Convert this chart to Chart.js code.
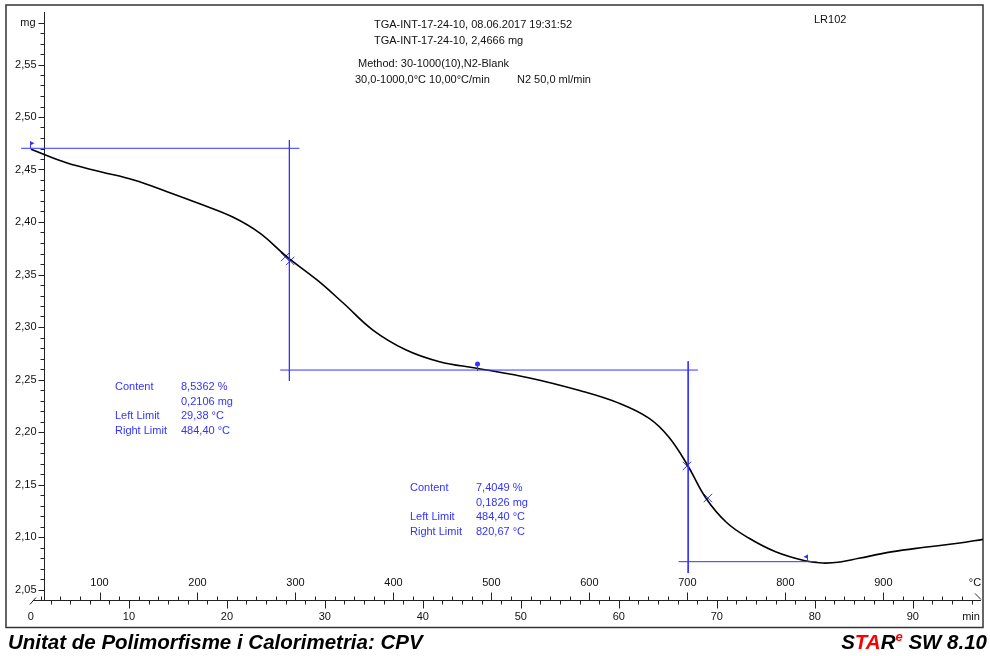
<!DOCTYPE html>
<html>
<head>
<meta charset="utf-8">
<script src="https://cdn.jsdelivr.net/npm/chart.js@4.4.1/dist/chart.umd.min.js"></script>
<style>
  html, body { margin: 0; padding: 0; background: #fff; }
  #tga { display: block; }
</style>
</head>
<body>
<canvas id="tga" width="990" height="656"></canvas>
<script>
// --- data ---
const timeMin = [0, 3.7, 7.1, 10.5, 13.9, 17.3, 20.7, 23.4, 26.1, 29.2, 31.9, 34.9,
  38.3, 41.7, 45.5, 50.9, 56.0, 60.0, 63.1, 65.1, 67.0, 68.9, 71.0, 73.3, 76.0, 79.0,
  80.8, 82.6, 84.5, 87.8, 91.2, 94.6, 97.2];
const massMg = [2.4692, 2.4561, 2.4479, 2.4400, 2.4289, 2.4171, 2.4043, 2.3892,
  2.3670, 2.3448, 2.3226, 2.2971, 2.2781, 2.2670, 2.2607, 2.2515, 2.2395, 2.2275, 2.2130,
  2.1952, 2.1686, 2.1369, 2.1138, 2.0988, 2.0860, 2.0774, 2.0752, 2.0762, 2.0797, 2.0858,
  2.0902, 2.0940, 2.0978];

// step evaluation lines [min, mg]
const stepBase1 = [[-1.0, 2.4702], [27.4, 2.4702]];
const stepLimit1 = [[26.38, 2.4781], [26.38, 2.2486]];
const stepBase2 = [[25.44, 2.2590], [68.07, 2.2590]];
const stepLimit2 = [[67.08, 2.2673], [67.08, 2.0657]];
const stepBase3 = [[66.1, 2.0765], [80.2, 2.0765]];
const crossMarks = [[25.95, 2.3667], [26.46, 2.3629], [66.95, 2.1676], [69.09, 2.1371]];
const flagStart = [0, 2.4702];
const pinMid = [45.5, 2.2590];
const flagEnd = [79.2, 2.0765];

// axis ticks
const yTickValues = [2.05, 2.10, 2.15, 2.20, 2.25, 2.30, 2.35, 2.40, 2.45, 2.50, 2.55];
const yTickLabels = ['2,05', '2,10', '2,15', '2,20', '2,25', '2,30', '2,35', '2,40', '2,45', '2,50', '2,55'];
const tempLabels = [100, 200, 300, 400, 500, 600, 700, 800, 900];
const minLabels = [0, 10, 20, 30, 40, 50, 60, 70, 80, 90];

const step1Text = [['Content', '8,5362 %'], ['', '0,2106 mg'], ['Left Limit', '29,38 °C'], ['Right Limit', '484,40 °C']];
const step2Text = [['Content', '7,4049 %'], ['', '0,1826 mg'], ['Left Limit', '484,40 °C'], ['Right Limit', '820,67 °C']];

const BLUE = '#3333ff';
const FONT = '11px "Liberation Sans", Arial, sans-serif';

function pts(arr) { return arr.map(p => ({ x: p[0], y: p[1] })); }
function lineSet(arr) {
  return { data: pts(arr), borderColor: BLUE, borderWidth: 1, pointRadius: 0, tension: 0 };
}

// --- axes, frame and texts ---
const tgaDecor = {
  id: 'tgaDecor',
  beforeDatasetsDraw(chart) {
    const c = chart.ctx, xs = chart.scales.x, ys = chart.scales.y;
    const axisY = ys.getPixelForValue(2.04);
    const axisX = Math.round(xs.getPixelForValue(1.3)) + 0.5;
    c.save();
    c.strokeStyle = '#222';
    c.fillStyle = '#111';
    c.lineWidth = 1;
    c.font = FONT;

    // y axis
    c.beginPath();
    c.moveTo(axisX, ys.getPixelForValue(2.60));
    c.lineTo(axisX, axisY);
    for (let i = 5; i <= 59; i++) {
      const yp = Math.round(ys.getPixelForValue(2 + i / 100)) + 0.5;
      const len = (i % 5 === 0 || i === 59) ? 6 : 4;
      c.moveTo(axisX - len, yp);
      c.lineTo(axisX, yp);
    }
    c.stroke();
    c.textAlign = 'right';
    c.textBaseline = 'middle';
    yTickValues.forEach((v, i) => c.fillText(yTickLabels[i], axisX - 8, ys.getPixelForValue(v)));
    c.fillText('mg', axisX - 9, ys.getPixelForValue(2.59));

    // x axis (time below, temperature above)
    const ax = Math.round(axisY) + 0.5;
    const x0 = xs.getPixelForValue(0), x1 = chart.chartArea.right;
    c.beginPath();
    c.moveTo(x0 + 2, ax);
    c.lineTo(x1 - 2, ax);
    c.moveTo(x0 - 1, ax + 4); c.lineTo(x0 + 5, ax - 3);
    c.moveTo(x1 - 8, ax - 7); c.lineTo(x1 - 2, ax - 1);
    for (let T = 40; T <= 980; T += 20) {
      const xp = Math.round(xs.getPixelForValue((T - 30) / 10)) + 0.5;
      c.moveTo(xp, ax);
      c.lineTo(xp, ax - (T % 100 === 0 ? 8 : 4));
    }
    for (let t = 2; t <= 96; t += 2) {
      const xp = Math.round(xs.getPixelForValue(t)) + 0.5;
      c.moveTo(xp, ax);
      c.lineTo(xp, ax + (t % 10 === 0 ? 8 : 4));
    }
    c.stroke();
    c.textAlign = 'center';
    tempLabels.forEach(T => c.fillText(String(T), xs.getPixelForValue((T - 30) / 10), ax - 18));
    minLabels.forEach(t => c.fillText(String(t), xs.getPixelForValue(t), ax + 16));
    c.fillText('°C', x1 - 8, ax - 18);
    c.fillText('min', x1 - 12, ax + 16);

    // frame
    c.lineWidth = 1.5;
    c.strokeStyle = '#333';
    c.strokeRect(6, 5, x1 - 6, ax + 27 - 5);

    // header
    c.textAlign = 'left';
    c.fillStyle = '#111';
    c.fillText('TGA-INT-17-24-10, 08.06.2017 19:31:52', 374, 25);
    c.fillText('TGA-INT-17-24-10, 2,4666 mg', 374, 41);
    c.fillText('Method: 30-1000(10),N2-Blank', 358, 64);
    c.fillText('30,0-1000,0°C 10,00°C/min', 355, 80);
    c.fillText('N2 50,0 ml/min', 517, 80);
    c.fillText('LR102', 814, 20);

    // step result texts
    c.fillStyle = BLUE;
    const rows = [0, 15, 29, 44];
    step1Text.forEach((r, i) => { c.fillText(r[0], 115, 387 + rows[i]); c.fillText(r[1], 181, 387 + rows[i]); });
    step2Text.forEach((r, i) => { c.fillText(r[0], 410, 488 + rows[i]); c.fillText(r[1], 476, 488 + rows[i]); });

    // footer
    c.fillStyle = '#000';
    c.textBaseline = 'alphabetic';
    const big = 'bold italic 20.5px "Liberation Sans", Arial, sans-serif';
    const small = 'bold italic 13px "Liberation Sans", Arial, sans-serif';
    c.font = big;
    c.fillText('Unitat de Polimorfisme i Calorimetria: CPV', 8, 649);
    const parts = [['S', '#000', big, 0], ['TA', '#ff0000', big, 0], ['R', '#000', big, 0],
      ['e', '#ff0000', small, -8], [' SW 8.10', '#000', big, 0]];
    let total = 0;
    parts.forEach(p => { c.font = p[2]; total += c.measureText(p[0]).width; });
    let px = 987 - total;
    parts.forEach(p => {
      c.font = p[2]; c.fillStyle = p[1];
      c.fillText(p[0], px, 649 + p[3]);
      px += c.measureText(p[0]).width;
    });
    c.restore();
  },
  afterDatasetsDraw(chart) {
    const c = chart.ctx, xs = chart.scales.x, ys = chart.scales.y;
    c.save();
    c.fillStyle = BLUE;
    c.strokeStyle = BLUE;
    c.lineWidth = 1;
    // start flag
    let x = Math.round(xs.getPixelForValue(flagStart[0])) + 0.5, y = ys.getPixelForValue(flagStart[1]);
    c.beginPath(); c.moveTo(x - 1, y); c.lineTo(x - 1, y - 7); c.stroke();
    c.beginPath(); c.moveTo(x - 1, y - 7); c.lineTo(x + 3, y - 5); c.lineTo(x - 1, y - 3); c.fill();
    // middle pin
    x = Math.round(xs.getPixelForValue(pinMid[0])) + 0.5; y = ys.getPixelForValue(pinMid[1]);
    c.beginPath(); c.moveTo(x, y + 1); c.lineTo(x, y - 5); c.stroke();
    c.beginPath(); c.arc(x, y - 6, 2.5, 0, Math.PI * 2); c.fill();
    // end flag
    x = Math.round(xs.getPixelForValue(flagEnd[0])) + 0.5; y = ys.getPixelForValue(flagEnd[1]);
    c.beginPath(); c.moveTo(x, y); c.lineTo(x, y - 7); c.stroke();
    c.beginPath(); c.moveTo(x, y - 7); c.lineTo(x - 4, y - 5); c.lineTo(x, y - 3); c.fill();
    c.restore();
  }
};

new Chart(document.getElementById('tga'), {
  type: 'line',
  data: {
    datasets: [
      lineSet(stepBase1), lineSet(stepLimit1), lineSet(stepBase2), lineSet(stepLimit2), lineSet(stepBase3),
      {
        data: timeMin.map((t, i) => ({ x: t, y: massMg[i] })),
        borderColor: '#000', borderWidth: 1.6, pointRadius: 0,
        tension: 0.4
      },
      {
        data: pts(crossMarks), showLine: false, pointStyle: 'crossRot',
        pointRadius: 6, borderColor: BLUE, borderWidth: 1
      }
    ]
  },
  options: {
    responsive: false,
    animation: false,
    events: [],
    layout: { padding: { left: 6, right: 5, top: 12, bottom: 56 } },
    plugins: { legend: { display: false }, tooltip: { enabled: false } },
    scales: {
      x: { type: 'linear', min: -2.442, max: 97.17, display: false },
      y: { type: 'linear', min: 2.04, max: 2.60, display: false }
    }
  },
  plugins: [tgaDecor]
});
</script>
</body>
</html>
